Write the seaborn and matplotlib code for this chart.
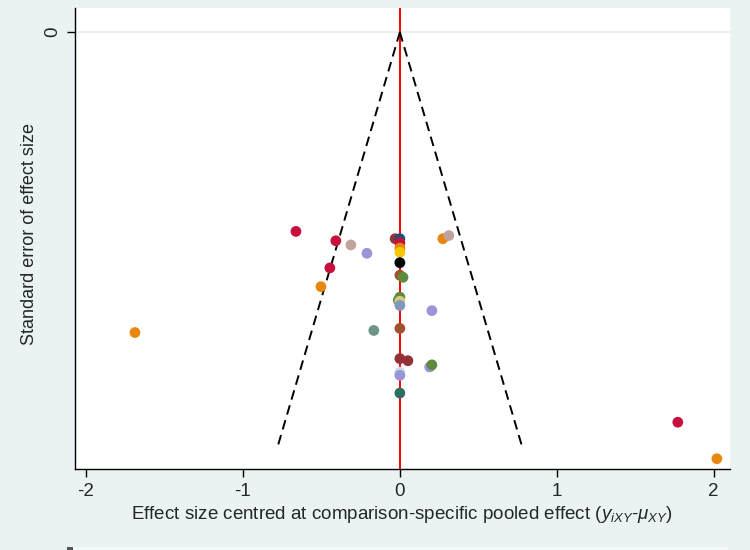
import matplotlib
matplotlib.use("Agg")
import matplotlib.pyplot as plt
import numpy as np
import pandas as pd
import seaborn as sns
from matplotlib.patches import Rectangle

sns.set_theme(style="white")
plt.rcParams["font.family"] = ["Liberation Sans", "DejaVu Sans"]
plt.rcParams["mathtext.fontset"] = "custom"
plt.rcParams["mathtext.it"] = "Liberation Sans:italic"
plt.rcParams["mathtext.rm"] = "Liberation Sans"

# ── data ─────────────────────────────────────────────────────────────────────
effect = [-0.662, -0.408, -0.312, -0.210, -0.446, -0.503, -1.688, -0.166,
          0.204, 0.274, 0.312, 1.771, 2.020, 0.051, 0.190, 0.204,
          -0.030, 0.000, 0.000, 0.000, 0.000, 0.000, 0.000, 0.020,
          0.000, -0.010, 0.000, 0.000, 0.000, 0.000, 0.000, 0.000, 0.000]
se     = [0.191, 0.200, 0.204, 0.212, 0.226, 0.244, 0.288, 0.286,
          0.267, 0.198, 0.195, 0.374, 0.409, 0.315, 0.321, 0.319,
          0.198, 0.198, 0.202, 0.207, 0.211, 0.221, 0.233, 0.235,
          0.254, 0.257, 0.258, 0.262, 0.284, 0.313, 0.326, 0.329, 0.346]
comparison = ["C", "C", "R", "L", "C", "O", "O", "G",
              "L", "O", "R", "C", "O", "M", "L", "F",
              "M", "N", "C", "O", "Y", "K", "S", "F",
              "F", "F", "H", "B", "S", "M", "W", "L", "T"]
colors = {"C": "#C8103F", "O": "#E8870E", "R": "#C2A39C", "L": "#9B94D8",
          "G": "#6E9484", "M": "#963038", "F": "#5E8A3C", "N": "#1F4E79",
          "Y": "#F5C800", "K": "#000000", "S": "#A0522D", "H": "#D3CB85",
          "B": "#7E9AB8", "W": "#CBDCEA", "T": "#2E6E62"}
se_max = 0.398
x_ticks = [-2, -1, 0, 1, 2]

df = pd.DataFrame({"effect": effect, "se": se, "comparison": comparison})

fig = plt.figure(figsize=(7.5, 5.5), dpi=100, facecolor="#EAF2F3")
ax = fig.add_axes([0.1, 0.147, 0.873, 0.838])
ax.set_facecolor("white")

ax.axhline(0, color="#E3ECEE", lw=1.2, zorder=0)
ax.axvline(0, color="red", lw=1.4, zorder=1)
se_line = np.array([0, se_max])
ax.plot(1.96 * se_line, se_line, color="black", ls=(0, (5, 3)), lw=1.4, zorder=2)
ax.plot(-1.96 * se_line, se_line, color="black", ls=(0, (5, 3)), lw=1.4, zorder=2)

sns.scatterplot(data=df, x="effect", y="se", hue="comparison", palette=colors,
                s=60, edgecolor="none", legend=False, ax=ax, zorder=3)

ax.set_xlim(-2.07, 2.102)
ax.set_ylim(0.419, -0.023)
ax.set_xticks(x_ticks)
ax.set_xticklabels([str(t) for t in x_ticks], fontsize=13.5)
ax.set_yticks([0])
ax.set_yticklabels(["0"], fontsize=13.5, rotation=90, va="center")
ax.tick_params(axis="both", direction="out", length=6, width=1, color="black",
               bottom=True, left=True, pad=4)
for side in ["top", "right"]:
    ax.spines[side].set_visible(False)
for side in ["left", "bottom"]:
    ax.spines[side].set_color("black")
    ax.spines[side].set_linewidth(1)

ax.set_xlabel(r"Effect size centred at comparison-specific pooled effect ($y_{iXY}$-$\mu_{XY}$)",
              fontsize=13.5, labelpad=3)
ax.set_ylabel("Standard error of effect size", fontsize=13)
ax.yaxis.set_label_coords(-0.057, 0.51)

# cropped legend box at the very bottom
fig.patches.append(Rectangle((0.09, 0.0), 0.88, 0.006, transform=fig.transFigure,
                             facecolor="#F4F8F8", edgecolor="none"))
fig.patches.append(Rectangle((0.089, 0.0), 0.008, 0.005, transform=fig.transFigure,
                             facecolor="#555555", edgecolor="none"))

fig.savefig("out.png", dpi=100, facecolor=fig.get_facecolor())
